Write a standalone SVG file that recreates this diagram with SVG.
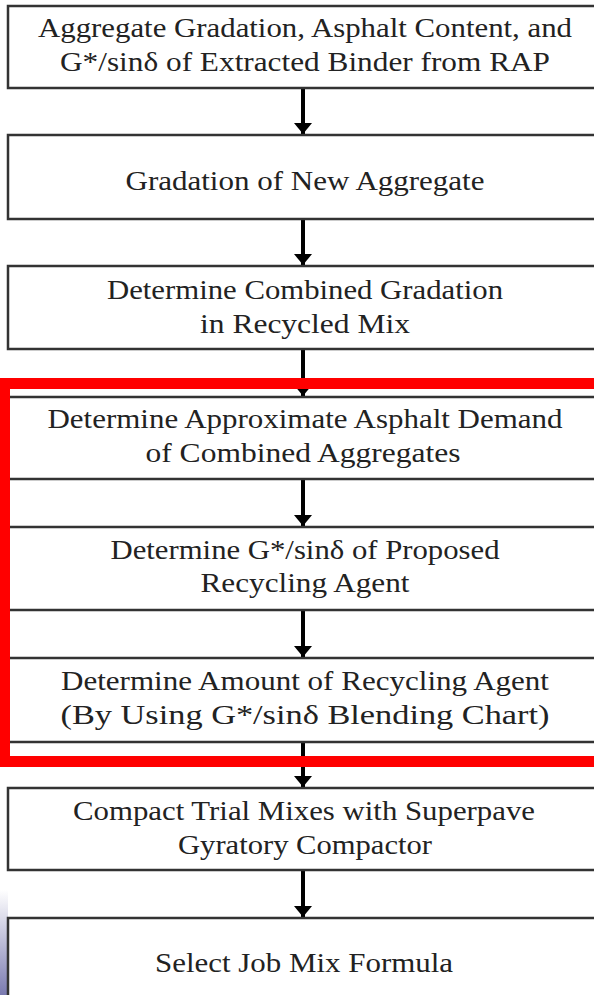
<svg xmlns="http://www.w3.org/2000/svg" width="594" height="995" viewBox="0 0 594 995">
<defs>
<style>
.box{fill:#fff;stroke:#333;stroke-width:2.5}
.t{font-family:"Liberation Serif","Times New Roman",serif;font-size:27px;fill:#222;text-anchor:middle}
.c{stroke:#000;stroke-width:4;fill:none}
</style>
<marker id="ah" viewBox="0 0 11 18" refX="11" refY="9" markerWidth="2.75" markerHeight="4.5" orient="auto" markerUnits="strokeWidth">
<path d="M0,0 L11,9 L0,18 Z" fill="#000"/>
</marker>
<linearGradient id="blu" x1="0" y1="0" x2="0" y2="1">
<stop offset="0" stop-color="#fff"/>
<stop offset="1" stop-color="#7a7ab0"/>
</linearGradient>
</defs>
<rect x="0" y="0" width="594" height="995" fill="#fff"/>
<rect x="0" y="890" width="8" height="105" fill="url(#blu)"/>
<g id="connectors">
<line class="c" x1="303" y1="88" x2="303" y2="134" marker-end="url(#ah)"/>
<line class="c" x1="303" y1="219" x2="303" y2="265" marker-end="url(#ah)"/>
<line class="c" x1="303" y1="349" x2="303" y2="396" marker-end="url(#ah)"/>
<line class="c" x1="303" y1="479" x2="303" y2="526" marker-end="url(#ah)"/>
<line class="c" x1="303" y1="610" x2="303" y2="657" marker-end="url(#ah)"/>
<line class="c" x1="303" y1="742" x2="303" y2="787" marker-end="url(#ah)"/>
<line class="c" x1="303" y1="870" x2="303" y2="917" marker-end="url(#ah)"/>
</g>
<g id="n1"><rect class="box" x="8" y="6" width="600" height="82"/>
<text class="t" x="305" y="37" textLength="534" lengthAdjust="spacingAndGlyphs">Aggregate Gradation, Asphalt Content, and</text>
<text class="t" x="305" y="71" textLength="490" lengthAdjust="spacingAndGlyphs">G*/sinδ of Extracted Binder from RAP</text></g>
<g id="n2"><rect class="box" x="8" y="135" width="600" height="84"/>
<text class="t" x="305" y="190" textLength="359" lengthAdjust="spacingAndGlyphs">Gradation of New Aggregate</text></g>
<g id="n3"><rect class="box" x="8" y="266" width="600" height="83"/>
<text class="t" x="305" y="299" textLength="396" lengthAdjust="spacingAndGlyphs">Determine Combined Gradation</text>
<text class="t" x="305" y="333" textLength="210" lengthAdjust="spacingAndGlyphs">in Recycled Mix</text></g>
<g id="n4"><rect class="box" x="8" y="397" width="600" height="82"/>
<text class="t" x="305" y="428" textLength="515" lengthAdjust="spacingAndGlyphs">Determine Approximate Asphalt Demand</text>
<text class="t" x="303" y="462" textLength="315" lengthAdjust="spacingAndGlyphs">of Combined Aggregates</text></g>
<g id="n5"><rect class="box" x="8" y="527" width="600" height="83"/>
<text class="t" x="305" y="559" textLength="389" lengthAdjust="spacingAndGlyphs">Determine G*/sinδ of Proposed</text>
<text class="t" x="305" y="592" textLength="209" lengthAdjust="spacingAndGlyphs">Recycling Agent</text></g>
<g id="n6"><rect class="box" x="8" y="658" width="600" height="84"/>
<text class="t" x="305" y="690" textLength="488" lengthAdjust="spacingAndGlyphs">Determine Amount of Recycling Agent</text>
<text class="t" x="305" y="724" textLength="489" lengthAdjust="spacingAndGlyphs">(By Using G*/sinδ Blending Chart)</text></g>
<g id="n7"><rect class="box" x="8" y="788" width="600" height="82"/>
<text class="t" x="304" y="820" textLength="462" lengthAdjust="spacingAndGlyphs">Compact Trial Mixes with Superpave</text>
<text class="t" x="305" y="854" textLength="254" lengthAdjust="spacingAndGlyphs">Gyratory Compactor</text></g>
<g id="n8"><rect class="box" x="8" y="918" width="600" height="100"/>
<text class="t" x="304" y="972" textLength="298" lengthAdjust="spacingAndGlyphs">Select Job Mix Formula</text></g>
<g id="highlight"><rect x="4.5" y="383.5" width="600" height="378" fill="none" stroke="#f00" stroke-width="11"/></g>
</svg>
